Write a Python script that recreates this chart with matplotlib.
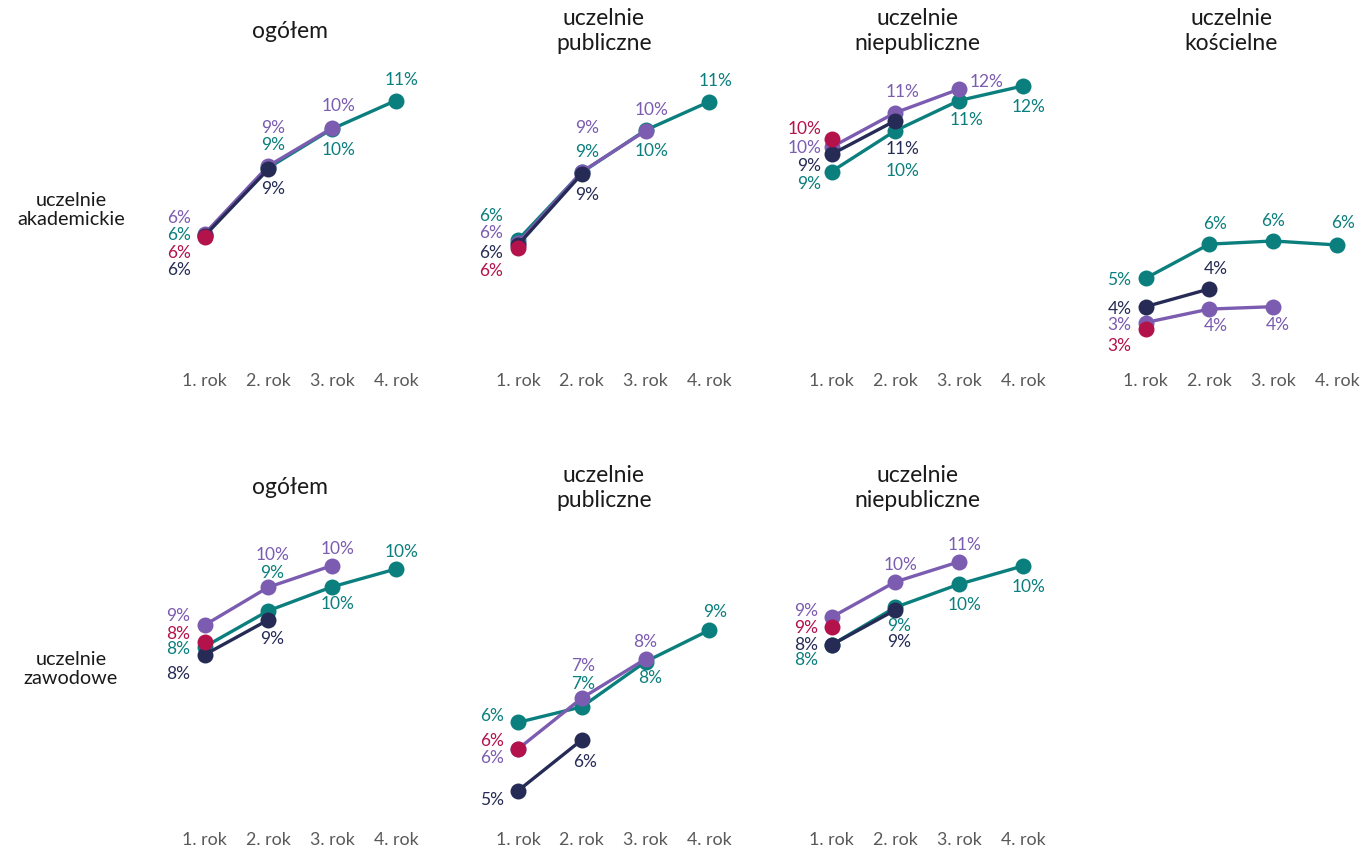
import matplotlib
matplotlib.use("Agg")
import matplotlib.pyplot as plt

# -------------------------------
# dane (wartości w %)
# -------------------------------
YEARS = ["1. rok", "2. rok", "3. rok", "4. rok"]
ROW_LABELS = ["uczelnie\nakademickie", "uczelnie\nzawodowe"]
TITLES_AKAD = ["ogółem", "uczelnie\npubliczne", "uczelnie\nniepubliczne", "uczelnie\nkościelne"]
TITLES_ZAW = ["ogółem", "uczelnie\npubliczne", "uczelnie\nniepubliczne"]

# teal - 4 lata, purple - 3 lata, navy - 2 lata, crimson - 1 rok
akad_ogolem = {
    "teal": [6.35, 8.88, 10.35, 11.42],
    "purple": [6.39, 8.95, 10.38],
    "navy": [6.31, 8.83],
    "crimson": [6.28],
}
akad_publ = {
    "teal": [6.16, 8.71, 10.30, 11.38],
    "purple": [6.05, 8.73, 10.28],
    "navy": [5.97, 8.65],
    "crimson": [5.87],
}
akad_niepubl = {
    "teal": [8.74, 10.28, 11.42, 11.97],
    "purple": [9.66, 10.96, 11.85],
    "navy": [9.39, 10.66],
    "crimson": [9.97],
}
akad_koscielne = {
    "teal": [4.71, 6.00, 6.12, 5.97],
    "purple": [3.04, 3.55, 3.64],
    "navy": [3.64, 4.31],
    "crimson": [2.79],
}
zaw_ogolem = {
    "teal": [8.32, 9.27, 9.90, 10.37],
    "purple": [8.89, 9.89, 10.46],
    "navy": [8.11, 9.03],
    "crimson": [8.46],
}
zaw_publ = {
    "teal": [6.33, 6.74, 7.93, 8.76],
    "purple": [5.63, 6.97, 8.00],
    "navy": [4.53, 5.87],
    "crimson": [5.62],
}
zaw_niepubl = {
    "teal": [8.37, 9.36, 9.97, 10.45],
    "purple": [9.10, 10.03, 10.56],
    "navy": [8.37, 9.29],
    "crimson": [8.85],
}

# -------------------------------
# ustawienia wyglądu
# -------------------------------
COLORS = {
    "teal": "#0B7F7D",
    "purple": "#7B5CB0",
    "navy": "#262B56",
    "crimson": "#B3124B",
}
ORDER = ["teal", "purple", "navy", "crimson"]

# przesunięcia etykiet w pikselach (dx, dy; dy w górę)
off_akad_ogolem = {
    "teal": [(-14, 0), (5, 23), (6, -21), (6, 21)],
    "purple": [(-14, 16), (5, 38), (6, 22)],
    "navy": [(-14, -34), (5, -20)],
    "crimson": [(-14, -16)],
}
off_akad_publ = {
    "teal": [(-15, 24), (5, 20), (6, -21), (6, 21)],
    "purple": [(-15, 10), (5, 44), (6, 21)],
    "navy": [(-15, -8), (5, -21)],
    "crimson": [(-15, -23)],
}
off_akad_niepubl = {
    "teal": [(-10, -12), (7, -40), (7, -19), (6, -21)],
    "purple": [(-10, -1), (7, 21), (11, 7)],
    "navy": [(-10, -12), (7, -28)],
    "crimson": [(-10, 10)],
}
off_akad_koscielne = {
    "teal": [(-14, -2), (6, 20), (0, 20), (6, 22)],
    "purple": [(-14, -2), (6, -17), (5, -18)],
    "navy": [(-14, -2), (6, 20)],
    "crimson": [(-14, -17)],
}
off_zaw_ogolem = {
    "teal": [(-14, -2), (4, 38), (5, -17), (6, 17)],
    "purple": [(-14, 9), (4, 32), (5, 17)],
    "navy": [(-14, -19), (4, -19)],
    "crimson": [(-14, 8)],
}
off_zaw_publ = {
    "teal": [(-14, 6), (1, 23), (5, -16), (6, 18)],
    "purple": [(-14, -9), (1, 32), (0, 17)],
    "navy": [(-14, -9), (3, -22)],
    "crimson": [(-14, 8)],
}
off_zaw_niepubl = {
    "teal": [(-13, -15), (4, -19), (5, -21), (6, -21)],
    "purple": [(-13, 6), (5, 17), (5, 17)],
    "navy": [(-13, 0), (4, -32)],
    "crimson": [(-13, -1)],
}

FIG_W, FIG_H = 1362, 850
X_FIRST = [204.5, 518, 831.5, 1145.5]   # piksel x dla "1. rok"
X_STEP = 63.8
ROWS = [
    # górna, dolna krawędź osi w pikselach, ylim, środek tytułu, środek etykiety wiersza
    {"top": 60, "bottom": 361, "ylim": (1.59, 12.95), "title_y": 31, "label_y": 210},
    {"top": 520, "bottom": 820, "ylim": (3.76, 11.66), "title_y": 488, "label_y": 669},
]

FONT = ["Lato", "DejaVu Sans"]
plt.rcParams["font.family"] = FONT

panels = [
    (0, 0, TITLES_AKAD[0], akad_ogolem, off_akad_ogolem),
    (0, 1, TITLES_AKAD[1], akad_publ, off_akad_publ),
    (0, 2, TITLES_AKAD[2], akad_niepubl, off_akad_niepubl),
    (0, 3, TITLES_AKAD[3], akad_koscielne, off_akad_koscielne),
    (1, 0, TITLES_ZAW[0], zaw_ogolem, off_zaw_ogolem),
    (1, 1, TITLES_ZAW[1], zaw_publ, off_zaw_publ),
    (1, 2, TITLES_ZAW[2], zaw_niepubl, off_zaw_niepubl),
]

fig = plt.figure(figsize=(FIG_W / 100, FIG_H / 100), dpi=100)

for row, col, title, data, offs in panels:
    r = ROWS[row]
    left = X_FIRST[col] - 0.5 * X_STEP
    ax = fig.add_axes([left / FIG_W, 1 - r["bottom"] / FIG_H,
                       4 * X_STEP / FIG_W, (r["bottom"] - r["top"]) / FIG_H])
    ax.set_xlim(-0.5, 3.5)
    ax.set_ylim(*r["ylim"])
    for key in ORDER:
        vals = data[key]
        xs = list(range(len(vals)))
        ax.plot(xs, vals, color=COLORS[key], lw=2.4, marker="o", markersize=11.5,
                markeredgewidth=0, clip_on=False, solid_capstyle="round")
        for i, v in enumerate(vals):
            dx, dy = offs[key][i]
            ha = "right" if dx < -8 else ("left" if dx > 8 else "center")
            ax.annotate(f"{round(v)}%", (i, v), xytext=(dx, dy), textcoords="offset pixels",
                        ha=ha, va="center", fontsize=12.5, color=COLORS[key])
    ax.set_xticks(range(4), YEARS)
    ax.tick_params(axis="x", length=0, pad=8.5, labelsize=12.8, labelcolor="#595959")
    ax.set_yticks([])
    for s in ax.spines.values():
        s.set_visible(False)
    ax.patch.set_visible(False)

    cx = X_FIRST[col] + 1.5 * X_STEP - 10
    fig.text(cx / FIG_W, 1 - r["title_y"] / FIG_H, title, ha="center", va="center",
             fontsize=16.5, color="#1a1a1a", linespacing=1.25)

for r, lab in zip(ROWS, ROW_LABELS):
    fig.text(71 / FIG_W, 1 - r["label_y"] / FIG_H, lab, ha="center", va="center",
             fontsize=14.3, color="#1a1a1a", linespacing=1.1)

fig.savefig("out.png", dpi=100, facecolor="white")
